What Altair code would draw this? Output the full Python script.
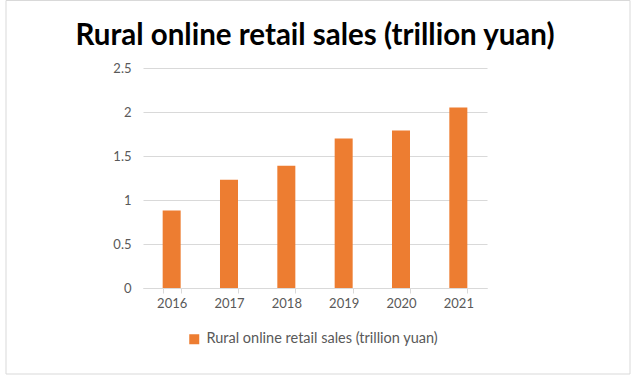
import altair as alt
import pandas as pd

years = ["2016", "2017", "2018", "2019", "2020", "2021"]
sales = [0.88, 1.23, 1.39, 1.70, 1.79, 2.05]
series_name = "Rural online retail sales (trillion yuan)"

df = pd.DataFrame({"year": years, "value": sales, "series": [series_name] * len(years)})

FONT = "Lato"
GRAY = "#595959"
LINE = "#D9D9D9"

bars = alt.Chart(df).mark_bar(color="#ED7D31").encode(
    x=alt.X("year:N", title=None, sort=years,
            scale=alt.Scale(paddingInner=0.686, paddingOuter=0.343),
            axis=alt.Axis(labelAngle=0, labelFont=FONT, labelFontSize=13, labelColor=GRAY,
                          domainColor=LINE, tickColor=LINE, tickBand="extent", grid=False,
                          tickSize=5, labelPadding=4)),
    y=alt.Y("value:Q", title=None,
            scale=alt.Scale(domain=[0, 2.5]),
            axis=alt.Axis(values=[0, 0.5, 1, 1.5, 2, 2.5], labelFont=FONT, labelFontSize=13,
                          labelColor=GRAY, domain=False, ticks=False, labelPadding=12,
                          gridColor=LINE, format="~g")),
    color=alt.Color("series:N", scale=alt.Scale(range=["#ED7D31"]),
                    legend=alt.Legend(title=None, orient="none", legendX=44, legendY=264,
                                      symbolType="square", symbolSize=100, labelLimit=0,
                                      labelFont=FONT, labelFontSize=14.5, labelColor=GRAY,
                                      symbolStrokeWidth=0, labelOffset=5)),
)

frame = alt.Chart(pd.DataFrame({"k": [0]})).mark_rect(
    fill=None, stroke=LINE, strokeWidth=1, clip=False
).encode(
    x=alt.value(-137), x2=alt.value(487), y=alt.value(-67.5), y2=alt.value(306)
)

chart = alt.layer(frame, bars).properties(
    width=344, height=220,
    title=alt.TitleParams(series_name, font=FONT, fontSize=29.5, fontWeight="bold",
                          color="#000000", anchor="middle", offset=-51.5),
    autosize=alt.AutoSizeParams(type="none"),
    padding={"left": 143, "top": 68, "right": 146, "bottom": 90},
).configure(background="white").configure_view(stroke=None)

chart.save("out.html", embed_options={"renderer": "svg", "actions": False})
